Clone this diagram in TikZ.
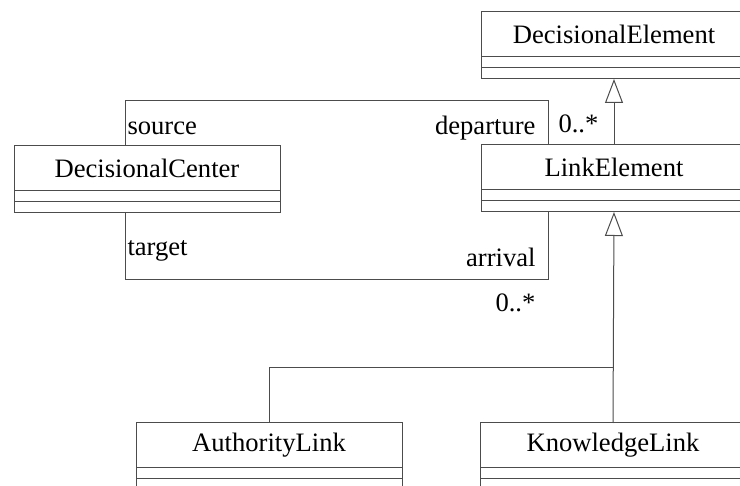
\documentclass[tikz,border=0pt]{standalone}
\usepackage{fontspec}
\setmainfont{Liberation Serif}
\usetikzlibrary{arrows.meta,positioning}

\tikzset{
  umlname/.style={draw, rectangle, inner sep=0pt, outer sep=0pt,
    minimum width=133pt, minimum height=22.5pt, anchor=north west},
  umlpart/.style={draw, rectangle, inner sep=0pt, outer sep=0pt,
    minimum width=133pt, minimum height=5.5pt, below=0pt of #1},
  inherit/.style={-{Triangle[open,length=12pt,width=9pt]}},
  role/.style={inner sep=0pt}
}

\begin{document}
\begin{tikzpicture}[x=0.5pt, y=-0.5pt, line width=0.5pt, draw=black!70,
  font=\fontsize{13.3}{15}\selectfont]

\useasboundingbox (0,0) rectangle (740,486);
\clip (0,0) rectangle (740,486);

% ---- classes ---------------------------------------------------------------
\node[umlname] (de) at (481,12) {DecisionalElement};
\node[umlpart=de] (de-a) {};
\node[umlpart=de-a] (de-o) {};

\node[umlname] (le) at (481,145) {LinkElement};
\node[umlpart=le] (le-a) {};
\node[umlpart=le-a] (le-o) {};

\node[umlname] (dc) at (14,146) {DecisionalCenter};
\node[umlpart=dc] (dc-a) {};
\node[umlpart=dc-a] (dc-o) {};

\node[umlname] (al) at (136,423) {AuthorityLink};
\node[umlpart=al] (al-a) {};
\node[umlpart=al-a] (al-o) {};

\node[umlname] (kl) at (480,423) {KnowledgeLink};
\node[umlpart=kl] (kl-a) {};
\node[umlpart=kl-a] (kl-o) {};

% ---- generalisations -------------------------------------------------------
\draw[inherit] (le.north) -- (de-o.south);
\path (kl.north) ++(0,-55) coordinate (fork);
\draw[inherit] (kl.north) -- (le-o.south);
\draw (al.north) |- (fork);

% ---- associations ----------------------------------------------------------
\draw ([xshift=-11pt]dc.north) -- ++(0,-45) -| ([xshift=-33pt]le.north);
\draw ([xshift=-11pt]dc-o.south) -- ++(0,67) -| ([xshift=-33pt]le-o.south);

% ---- role names and multiplicities -----------------------------------------
\node[role, anchor=base west] (src)  at (127,135) {source};
\node[role, anchor=base east] (dep)  at (536,135) {departure};
\node[role, anchor=base west] (mdep) at (558,133) {0..*};
\node[role, anchor=base west] (tgt)  at (127,256) {target};
\node[role, anchor=base east] (arr)  at (536,267) {arrival};
\node[role, anchor=base west] (marr) at (495,312) {0..*};

\end{tikzpicture}
\end{document}
